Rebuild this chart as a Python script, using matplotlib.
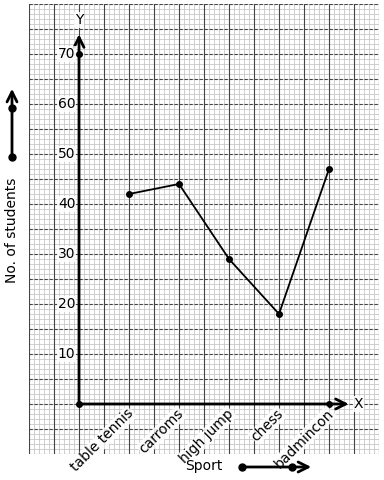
import matplotlib
matplotlib.use("Agg")
import matplotlib.pyplot as plt
import numpy as np

sports = ["table tennis", "carroms", "high jump", "chess", "badmincon"]
students = [42, 44, 29, 18, 47]
yticks = [10, 20, 30, 40, 50, 60, 70]

fig = plt.figure(figsize=(3.84, 4.8), dpi=100)
ax = fig.add_axes([29/384, 1 - 454/480, 350/384, 450/480])
ax.set_xlim(-1, 6)
ax.set_ylim(-10, 80)
for s in ax.spines.values():
    s.set_visible(False)
ax.set_xticks([])
ax.set_yticks([])

# graph paper
for xv in np.arange(-1, 6.001, 0.1):
    ax.axvline(xv, color="#c8c8c8", lw=0.6, zorder=0)
for yv in np.arange(-10, 80.001, 1):
    ax.axhline(yv, color="#c8c8c8", lw=0.6, zorder=0)
for xv in np.arange(-1, 6.001, 0.5):
    ax.axvline(xv, color="#444444", lw=0.8, zorder=1)
for yv in np.arange(-10, 80.001, 5):
    ax.axhline(yv, color="#444444", lw=0.8, ls=(0, (3, 1.5)), zorder=1)

bb = dict(facecolor="white", edgecolor="none", pad=0.5, alpha=0.85)

# axes
ax.annotate("", xy=(0, 74.5), xytext=(0, 0),
            arrowprops=dict(arrowstyle="->", lw=2, color="black", mutation_scale=18), zorder=5)
ax.annotate("", xy=(5.45, 0), xytext=(0, 0),
            arrowprops=dict(arrowstyle="->", lw=2, color="black", mutation_scale=18), zorder=5)
ax.plot([0, 0, 5], [0, 70, 0], "o", color="black", ms=4, zorder=6)
ax.text(0, 76.8, "Y", ha="center", va="center", fontsize=10, bbox=bb, zorder=7)
ax.text(5.5, 0, "X", ha="left", va="center", fontsize=10, bbox=bb, zorder=7)

for t in yticks:
    ax.text(-0.07, t, str(t), ha="right", va="center", fontsize=10, bbox=bb, zorder=7)

xs = np.arange(1, len(sports) + 1)
for x, s in zip(xs, sports):
    ax.text(x - 0.05, -0.5, s, rotation=45, ha="right", va="top", fontsize=10,
            rotation_mode="anchor", bbox=bb, zorder=7)

ax.plot(xs, students, "-o", color="black", lw=1.3, ms=4, zorder=6)

# axis labels with arrows (figure coords)
fig.text(12/384, 1 - 230/480, "No. of students", rotation=90, ha="center", va="center", fontsize=10)
fig.patches.append(matplotlib.patches.FancyArrowPatch((12/384, 1 - 157/480), (12/384, 1 - 86/480),
                   transform=fig.transFigure, arrowstyle="->", lw=2, mutation_scale=18, color="black",
                   zorder=3))
fig.lines.append(matplotlib.lines.Line2D([12/384, 12/384], [1 - 157/480, 1 - 108/480], ls="none",
                 marker="o", ms=5, color="black", transform=fig.transFigure, zorder=10))
fig.text(204/384, 1 - 466/480, "Sport", ha="center", va="center", fontsize=10)
fig.patches.append(matplotlib.patches.FancyArrowPatch((242/384, 1 - 467/480), (314/384, 1 - 467/480),
                   transform=fig.transFigure, arrowstyle="->", lw=2, mutation_scale=18, color="black",
                   zorder=3))
fig.lines.append(matplotlib.lines.Line2D([242/384, 292/384], [1 - 467/480, 1 - 467/480], ls="none",
                 marker="o", ms=5, color="black", transform=fig.transFigure, zorder=10))

fig.savefig("out.png", dpi=100)
